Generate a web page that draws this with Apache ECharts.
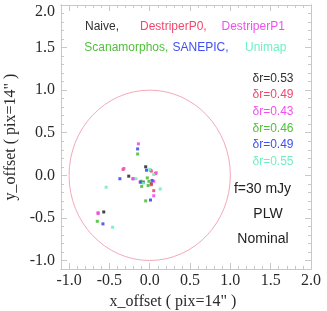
<!DOCTYPE html>
<html>
<head>
<meta charset="utf-8">
<script src="https://cdn.jsdelivr.net/npm/echarts@6/dist/echarts.min.js"></script>
<style>html,body{margin:0;padding:0;background:#fff}#c{width:327px;height:311px}</style>
</head>
<body>
<div id="c"></div>
<script>
// ---- data ----
const seriesNames = ['Naive', 'DestriperP0', 'DestriperP1', 'Scanamorphos', 'SANEPIC', 'Unimap'];
const naive = [[-0.57,-0.43],[-0.26,-0.01],[-0.05,0.10],[-0.08,-0.08],[0.02,-0.10]];
const destriperP0 = [[-0.64,-0.44],[-0.33,0.07],[-0.21,-0.04],[0.07,0.02],[0.02,-0.11],[0.05,-0.18],[0.02,0.05]];
const destriperP1 = [[-0.64,-0.45],[-0.14,0.37],[-0.32,0.08],[-0.20,-0.04],[0.08,0.03],[0.01,0.06],[0.05,-0.24],[0.05,-0.07],[-0.12,-0.08]];
const scanamorphos = [[-0.65,-0.54],[-0.15,0.25],[-0.11,-0.07],[-0.03,-0.03],[-0.01,-0.07],[-0.10,-0.13],[-0.02,-0.12],[-0.05,-0.30]];
const sanepic = [[-0.58,-0.57],[-0.15,0.31],[-0.37,-0.04],[-0.04,0.06],[0.03,-0.06],[-0.11,-0.08],[0.01,-0.29]];
const unimap = [[-0.46,-0.61],[-0.54,-0.14],[-0.17,-0.04],[0.05,0.01],[0.00,0.07],[0.13,-0.16],[-0.08,-0.09]];
const deltaR = ['0.53','0.49','0.43','0.46','0.49','0.55'];
const circleCenter = [0, 0];
const circleRadius = 1.0;
const xTicks = [-1.0,-0.5,0.0,0.5,1.0,1.5,2.0];
const yTicks = [-1.0,-0.5,0.0,0.5,1.0,1.5,2.0];
const axisMin = -1.1, axisMax = 2.0;
const xTitle = 'x_offset ( pix=14" )';
const yTitle = 'y_offset ( pix=14" )';
const notes = ['f=30 mJy', 'PLW', 'Nominal'];

// ---- styling ----
const colors = ['#303030', '#f0486e', '#f050ee', '#52c03c', '#4050f0', '#70f0c0'];
const minorVals = [];
for (let i = -11; i <= 20; i++) { const v = i / 10; if (Math.abs(v * 2 - Math.round(v * 2)) > 1e-9) minorVals.push(v); }
const axCol = '#c8c8c8';
const serif = '"Liberation Serif","DejaVu Serif",serif';
const sans = '"Liberation Sans",Arial,sans-serif';

function mkAxis(isX, pos, major, withLabels, name) {
  const a = {
    type: 'value', min: axisMin, max: axisMax, position: pos,
    axisLine: { show: true, onZero: false, lineStyle: { color: axCol, width: 1 } },
    axisTick: { show: true, inside: true, length: major ? 6 : 3, customValues: major ? (isX ? xTicks : yTicks) : minorVals, lineStyle: { color: axCol } },
    axisLabel: { show: false },
    splitLine: { show: false }
  };
  if (withLabels) {
    a.axisLabel = {
      show: true, customValues: isX ? xTicks : yTicks,
      fontFamily: serif, fontSize: 16, color: '#2a2a2a', margin: isX ? 4 : 6,
      formatter: v => (!isX && Math.abs(v - 2) < 1e-9) ? '{t|2.0}' : v.toFixed(1),
      rich: { t: { fontFamily: serif, fontSize: 16, color: '#2a2a2a', padding: [14, 0, 0, 0] } }
    };
  }
  if (name) {
    a.name = name; a.nameLocation = 'middle';
    a.nameGap = isX ? 12 : 40;
    a.nameTextStyle = isX ? { fontFamily: serif, fontSize: 16, color: '#2a2a2a', padding: [0, 26, 0, 0] }
                          : { fontFamily: serif, fontSize: 16, color: '#2a2a2a' };
  }
  return a;
}

const chart = echarts.init(document.getElementById('c'), null, { renderer: 'canvas' });
const dataSets = [naive, destriperP0, destriperP1, scanamorphos, sanepic, unimap];

const graphics = [];
const legendPos = [[85,28],[140,28],[221.5,28],[84.3,49],[172.5,49],[245,49]];
seriesNames.forEach((n, i) => {
  const label = n + (i === 2 || i === 5 ? '' : ',');
  graphics.push({ type: 'text', left: legendPos[i][0], top: legendPos[i][1] - 7,
    style: { text: label, fill: colors[i], font: '12px ' + sans } });
});
deltaR.forEach((d, i) => {
  graphics.push({ type: 'text', right: 327 - 293.5, top: 79.3 + i * 16.7 - 7,
    style: { text: 'δr=' + d, fill: colors[i], font: '12px ' + sans, align: 'right' } });
});
const noteY = [189.3, 214, 239];
const noteX = [262.5, 268, 263];
notes.forEach((t, i) => {
  graphics.push({ type: 'text', x: noteX[i], y: noteY[i],
    style: { text: t, fill: '#222', font: '14px ' + sans, align: 'center', verticalAlign: 'middle' } });
});

const series = [{
  type: 'custom', name: 'circle', xAxisIndex: 0, yAxisIndex: 0, silent: true, z: 1,
  data: [[circleCenter[0], circleCenter[1], circleRadius]],
  encode: { x: 0, y: 1 },
  renderItem: (params, api) => {
    const cx = api.value(0), cy = api.value(1), r = api.value(2);
    const c = api.coord([cx, cy]);
    const px = api.coord([cx + r, cy]);
    const py = api.coord([cx, cy + r]);
    return { type: 'ellipse', shape: { cx: c[0], cy: c[1], rx: px[0] - c[0], ry: c[1] - py[1] },
      style: { fill: null, stroke: '#f5a8b8', lineWidth: 1 } };
  }
}];
dataSets.forEach((d, i) => {
  series.push({ type: 'scatter', name: seriesNames[i], xAxisIndex: 0, yAxisIndex: 0, z: 3,
    data: d, symbol: 'rect', symbolSize: 3, itemStyle: { color: colors[i], opacity: 0.9 } });
});

chart.setOption({
  animation: false,
  backgroundColor: '#fff',
  grid: { left: 61, right: 16, top: 5, bottom: 42, outerBoundsMode: 'none', containLabel: false },
  xAxis: [
    mkAxis(true, 'bottom', true, true, xTitle),
    mkAxis(true, 'bottom', false, false),
    mkAxis(true, 'top', true, false),
    mkAxis(true, 'top', false, false)
  ],
  yAxis: [
    mkAxis(false, 'left', true, true, yTitle),
    mkAxis(false, 'left', false, false),
    mkAxis(false, 'right', true, false),
    mkAxis(false, 'right', false, false)
  ],
  graphic: graphics,
  series: series
});
</script>
</body>
</html>
